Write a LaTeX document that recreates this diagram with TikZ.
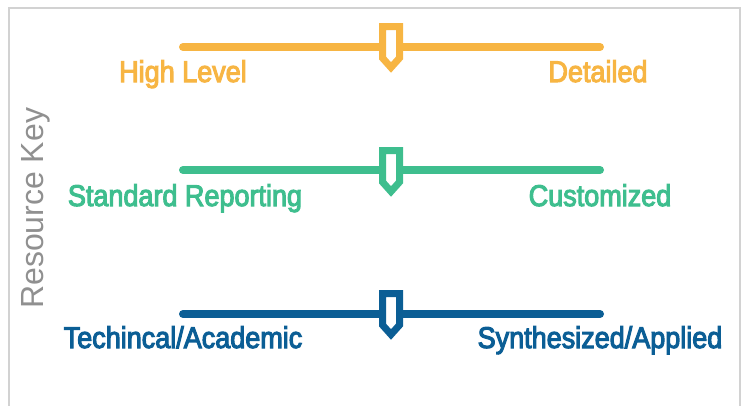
\documentclass[tikz,border=0pt]{standalone}
\usepackage{fontspec}
\setmainfont{Liberation Sans}
\newfontfamily\lblfont[FakeStretch=0.9,FakeBold=3.5]{Liberation Sans}
\definecolor{cOrange}{HTML}{F7B543}
\definecolor{cGreen}{HTML}{3EBE8E}
\definecolor{cBlue}{HTML}{0B5E95}
\definecolor{cFrame}{HTML}{D2D2D2}
\definecolor{cKey}{HTML}{909090}
\tikzset{
  scaleline/.style={line width=8pt, line cap=round},
  lbl/.style={anchor=base, inner sep=0pt, font=\lblfont\fontsize{30}{32}\selectfont},
  marker/.style={line width=7pt, line join=miter, fill=white},
}
\newcommand{\slidermarker}[3]{% x, top y, colour
  \draw[marker, draw=#3] (#1-8.5,#2+3.5) -- (#1+8.5,#2+3.5) -- (#1+8.5,#2+35) -- (#1,#2+44.5) -- (#1-8.5,#2+35) -- cycle;
}
\begin{document}
\begin{tikzpicture}[x=1pt,y=-1pt]
\useasboundingbox (0,0) rectangle (743,405);
% frame
\draw[cFrame, line width=2pt] (9,406) -- (9,8) -- (740,8) -- (740,406);
% key label
\node[rotate=90, anchor=base west, inner sep=0pt, text=cKey, font=\fontsize{32}{34}\selectfont] (key) at (43,309) {Resource Key};
% orange
\coordinate (oL) at (183,47); \coordinate (oR) at (600,47);
\draw[scaleline, cOrange] (oL) -- (oR);
\slidermarker{391}{23}{cOrange}
\node[lbl, text=cOrange] (oLt) at (183,82) {High Level};
\node[lbl, text=cOrange] (oRt) at (598,82) {Detailed};
% green
\coordinate (gL) at (183,170); \coordinate (gR) at (600,170);
\draw[scaleline, cGreen] (gL) -- (gR);
\slidermarker{391}{147}{cGreen}
\node[lbl, text=cGreen] (gLt) at (185,206) {Standard Reporting};
\node[lbl, text=cGreen] (gRt) at (600,206) {Customized};
% blue
\coordinate (bL) at (183,314); \coordinate (bR) at (600,314);
\draw[scaleline, cBlue] (bL) -- (bR);
\slidermarker{391}{290}{cBlue}
\node[lbl, text=cBlue] (bLt) at (183,348) {Techincal/Academic};
\node[lbl, text=cBlue] (bRt) at (600,348) {Synthesized/Applied};
\end{tikzpicture}
\end{document}
